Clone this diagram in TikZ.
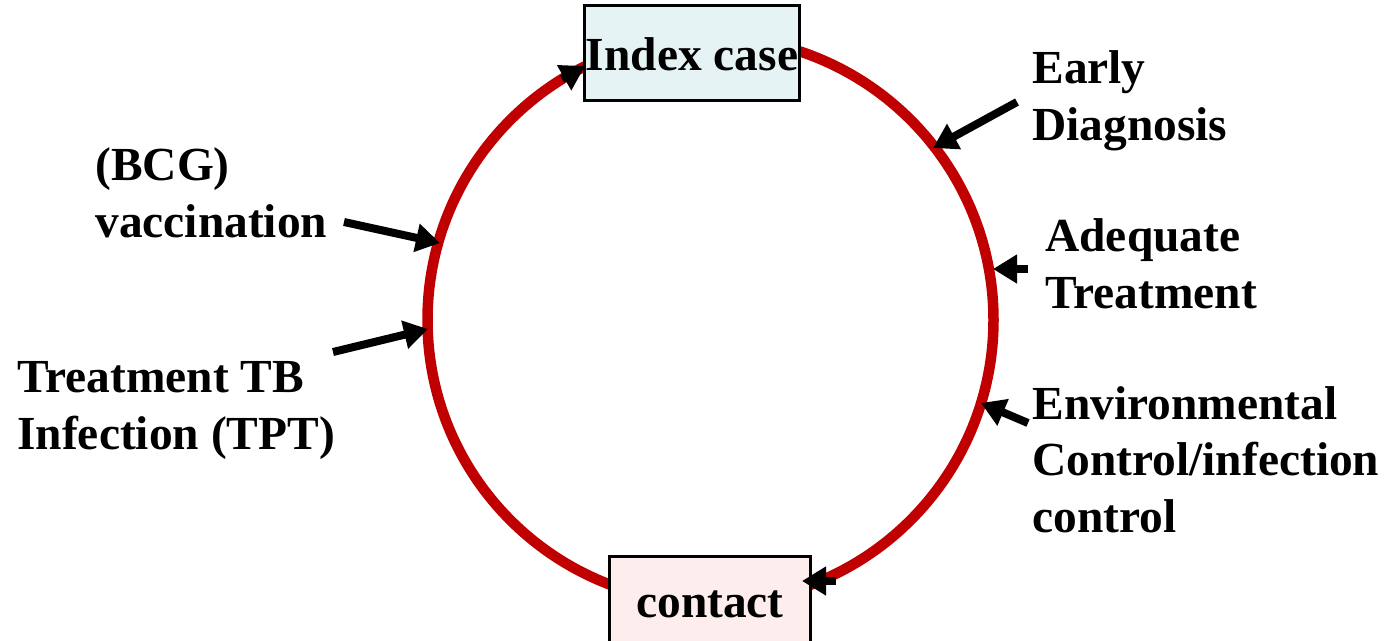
\documentclass[tikz,border=0pt]{standalone}
\usepackage{fontspec}
\setmainfont{Liberation Serif}
\usetikzlibrary{arrows.meta}
\definecolor{ringred}{HTML}{C00000}
\definecolor{indexfill}{HTML}{E6F3F5}
\definecolor{contactfill}{HTML}{FDEDEC}
\tikzset{
  ring/.style={draw=ringred, line width=0.21cm},
  casebox/.style={draw=black, line width=0.06cm, inner sep=0pt, align=center,
    font=\bfseries\fontsize{27}{32}\selectfont},
  label/.style={inner sep=0pt, anchor=base west, align=left,
    font=\bfseries\fontsize{27}{32}\selectfont},
  pointer/.style={draw=black, line width=0.16cm,
    -{Triangle[length=0.48cm, width=0.55cm]}, shorten >=0pt},
}
\begin{document}
\begin{tikzpicture}[x=0.02cm, y=-0.02cm]
\useasboundingbox (0,0) rectangle (1387,640);
% transmission cycle
\draw[ring] (710.5,320) circle (283);
% the two cases on the cycle
\node[casebox, fill=indexfill, minimum width=4.32cm, minimum height=1.92cm,
  text height=0.8cm, text depth=0.1cm]
  (index) at (692,53) {Index case};
\node[casebox, fill=contactfill, minimum width=4.04cm, minimum height=1.96cm,
  text height=0.78cm, text depth=0.3cm]
  (contact) at (710,605) {contact};
% interventions (anchored at the baseline of the last line)
\node[label] (early) at (1032,140) {Early\\Diagnosis};
\node[label] (adequate) at (1045,308) {Adequate\\Treatment};
\node[label] (env) at (1032,532) {Environmental\\Control/infection\\control};
\node[label] (bcg) at (95,237) {(BCG)\\vaccination};
\node[label] (tpt) at (17,449) {Treatment TB\\Infection (TPT)};
% arrow ends
\coordinate (earlyT) at (1017,102);   \coordinate (earlyH) at (933,148);
\coordinate (adeqT) at (1028,269);    \coordinate (adeqH) at (993,269);
\coordinate (envT) at (1028,423);     \coordinate (envH) at (981,403);
\coordinate (bcgT) at (344,222);      \coordinate (bcgH) at (440,243);
\coordinate (tptT) at (333,352);      \coordinate (tptH) at (428,329);
\coordinate (contactT) at (836,581);  \coordinate (contactH) at (802,581);
\coordinate (indexT) at (562,79);     \coordinate (indexH) at (585,66);
\draw[pointer] (earlyT) -- (earlyH);
\draw[pointer] (adeqT) -- (adeqH);
\draw[pointer] (envT) -- (envH);
\draw[pointer] (bcgT) -- (bcgH);
\draw[pointer] (tptT) -- (tptH);
\draw[pointer] (contactT) -- (contactH);
\draw[pointer] (indexT) -- (indexH);
\end{tikzpicture}
\end{document}
